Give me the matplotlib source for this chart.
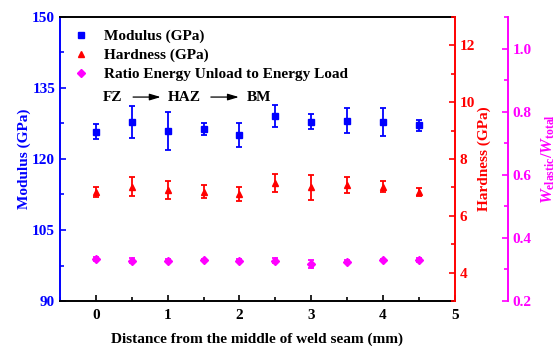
import matplotlib
matplotlib.use('Agg')
import matplotlib.pyplot as plt
from matplotlib.ticker import MultipleLocator

plt.rcParams['font.family'] = 'Liberation Serif'
plt.rcParams['font.weight'] = 'bold'
plt.rcParams['axes.labelweight'] = 'bold'
plt.rcParams['font.size'] = 11
plt.rcParams['mathtext.fontset'] = 'custom'
plt.rcParams['mathtext.rm'] = 'Liberation Serif:bold'
plt.rcParams['mathtext.it'] = 'Liberation Serif:italic:bold'
plt.rcParams['mathtext.bf'] = 'Liberation Serif:bold'

# data
distance = [0, 0.5, 1, 1.5, 2, 2.5, 3, 3.5, 4, 4.5]
modulus = [125.8, 127.8, 125.9, 126.3, 125.1, 129.1, 127.9, 128.1, 127.8, 127.1]
modulus_err = [1.6, 3.3, 4.0, 1.2, 2.6, 2.4, 1.6, 2.6, 2.9, 1.1]
hardness = [6.83, 7.03, 6.91, 6.85, 6.76, 7.15, 7.01, 7.08, 7.03, 6.83]
hardness_err = [0.18, 0.32, 0.31, 0.22, 0.25, 0.32, 0.44, 0.27, 0.20, 0.15]
ratio = [0.333, 0.328, 0.328, 0.330, 0.328, 0.328, 0.318, 0.325, 0.330, 0.330]
ratio_err = [0.005, 0.008, 0.004, 0.004, 0.004, 0.007, 0.012, 0.004, 0.004, 0.006]

blue = '#0000FF'
red = '#FF0000'
mag = '#FF00FF'

fig = plt.figure(figsize=(5.56, 3.46), dpi=100)
ax = fig.add_axes([0.108, 0.130, 0.710, 0.821])
ax2 = ax.twinx()
ax3 = ax.twinx()
ax3.spines['right'].set_position(('axes', 1.134))

ekw = dict(linestyle='none', capsize=2.2, elinewidth=1.3, capthick=1.3)
h1 = ax.errorbar(distance, modulus, yerr=modulus_err, fmt='s', color=blue,
                 ms=4.5, **ekw)
h2 = ax2.errorbar(distance, hardness, yerr=hardness_err, fmt='^', color=red,
                  ms=5, **ekw)
h3 = ax3.errorbar(distance, ratio, yerr=ratio_err, fmt='D', color=mag,
                  ms=4, **ekw)

ax.set_xlim(-0.5, 5)
ax.set_ylim(90, 150)
ax2.set_ylim(3, 13)
ax3.set_ylim(0.2, 1.1)

ax.xaxis.set_major_locator(MultipleLocator(1))
ax.xaxis.set_minor_locator(MultipleLocator(0.5))
ax.yaxis.set_major_locator(MultipleLocator(15))
ax.yaxis.set_minor_locator(MultipleLocator(7.5))
ax2.yaxis.set_major_locator(MultipleLocator(2))
ax2.yaxis.set_minor_locator(MultipleLocator(1))
ax3.yaxis.set_major_locator(MultipleLocator(0.2))
ax3.yaxis.set_minor_locator(MultipleLocator(0.1))

for a in (ax, ax2, ax3):
    a.tick_params(which='both', direction='in', width=1.2, labelsize=11)
    a.tick_params(which='major', length=4.5)
    a.tick_params(which='minor', length=3)
    for lab in a.get_xticklabels() + a.get_yticklabels():
        lab.set_fontweight('bold')
ax.tick_params(axis='x', which='both', top=False, colors='black', pad=6)
ax.tick_params(axis='y', which='both', right=False, colors=blue)
ax2.tick_params(axis='y', which='both', colors=red)
ax3.tick_params(axis='y', which='both', colors=mag)

for s in ax.spines.values():
    s.set_linewidth(1.4)
ax.spines['left'].set_color(blue)
ax.spines['right'].set_visible(False)
for name in ('left', 'top', 'bottom'):
    ax2.spines[name].set_visible(False)
    ax3.spines[name].set_visible(False)
ax2.spines['right'].set_color(red)
ax2.spines['right'].set_linewidth(1.4)
ax3.spines['right'].set_color(mag)
ax3.spines['right'].set_linewidth(1.4)

ax.set_xlabel('Distance from the middle of weld seam (mm)', labelpad=7,
              fontweight='bold')
ax.set_ylabel('Modulus (GPa)', color=blue, labelpad=1, fontweight='bold')
ax2.set_ylabel('Hardness (GPa)', color=red, labelpad=2, fontweight='bold')
ax3.set_ylabel(r'$\mathit{W}_{\mathrm{elastic}}/\mathit{W}_{\mathrm{total}}$',
               color=mag, labelpad=6, fontsize=12)

handles = [h1[0], h2[0], h3[0]]
labels = ['Modulus (GPa)', 'Hardness (GPa)', 'Ratio Energy Unload to Energy Load']
ax.legend(handles, labels, loc='upper left', bbox_to_anchor=(0.0, 1.0),
          frameon=False, handlelength=1.2, handletextpad=0.9,
          labelspacing=0.35, borderaxespad=0.4, prop={'weight': 'bold', 'size': 11})

# FZ -> HAZ -> BM
ax.text(0.109, 0.718, 'FZ', transform=ax.transAxes, va='center', fontweight='bold')
ax.text(0.274, 0.718, 'HAZ', transform=ax.transAxes, va='center', fontweight='bold')
ax.text(0.472, 0.718, 'BM', transform=ax.transAxes, va='center', fontweight='bold')
arrow = dict(arrowstyle='-|>,head_length=0.6,head_width=0.18', color='black', lw=0.9)
ax.annotate('', xy=(0.262, 0.718), xytext=(0.178, 0.718),
            xycoords='axes fraction', arrowprops=arrow)
ax.annotate('', xy=(0.460, 0.718), xytext=(0.375, 0.718),
            xycoords='axes fraction', arrowprops=arrow)

fig.savefig('out.png', dpi=100)
